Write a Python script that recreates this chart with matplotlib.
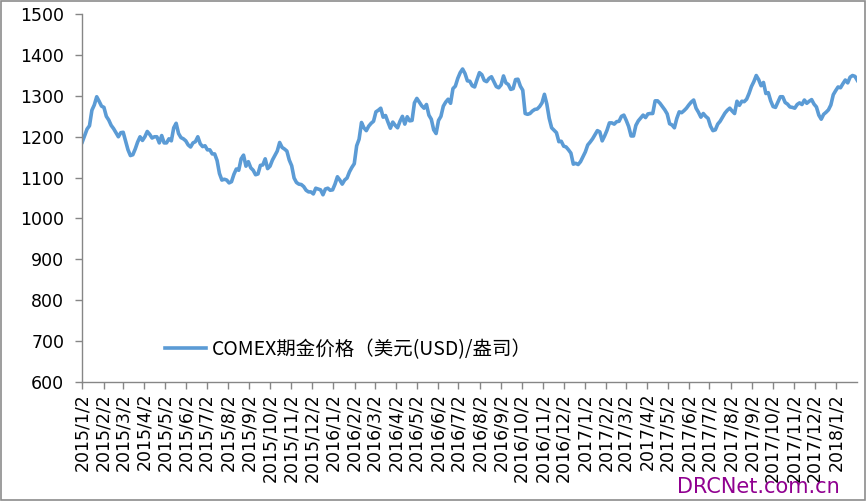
import matplotlib
matplotlib.use('Agg')
import matplotlib.pyplot as plt
from matplotlib.patches import Rectangle
import pandas as pd

# COMEX gold price (USD/oz) every half week, from 2015/1/2
price = [
    1187, 1203, 1219, 1227, 1265, 1278, 1298, 1287, 1275, 1272,
    1250, 1241, 1228, 1220, 1210, 1200, 1210, 1211, 1190, 1168,
    1154, 1156, 1170, 1187, 1200, 1191, 1200, 1213, 1206, 1197,
    1200, 1200, 1185, 1203, 1185, 1185, 1195, 1190, 1222, 1233,
    1208, 1198, 1195, 1190, 1180, 1175, 1185, 1188, 1200, 1183,
    1176, 1178, 1168, 1168, 1158, 1158, 1142, 1110, 1094, 1096,
    1094, 1087, 1090, 1108, 1121, 1118, 1146, 1155, 1128, 1139,
    1124, 1118, 1107, 1109, 1130, 1131, 1146, 1122, 1128, 1143,
    1154, 1165, 1186, 1174, 1170, 1165, 1143, 1129, 1099, 1088,
    1084, 1083, 1078, 1069, 1065, 1065, 1060, 1074, 1072, 1070,
    1058, 1072, 1074, 1069, 1070, 1084, 1102, 1094, 1084, 1094,
    1099, 1114, 1125, 1134, 1178, 1194, 1235, 1222, 1215, 1226,
    1233, 1238, 1261, 1265, 1270, 1248, 1252, 1236, 1221, 1236,
    1228, 1222, 1238, 1250, 1231, 1249, 1239, 1240, 1283, 1294,
    1285, 1276, 1270, 1279, 1253, 1243, 1217, 1208, 1240, 1250,
    1275, 1285, 1292, 1282, 1318, 1324, 1343, 1357, 1366, 1355,
    1337, 1336, 1325, 1322, 1340, 1357, 1352, 1338, 1335, 1343,
    1347, 1335, 1323, 1320, 1327, 1349, 1332, 1328, 1316, 1318,
    1340, 1341, 1324, 1314, 1257, 1255, 1257, 1263, 1267, 1268,
    1274, 1283, 1304, 1280, 1245, 1222, 1216, 1210, 1188, 1189,
    1177, 1175, 1168, 1160, 1133, 1135, 1132, 1139, 1151, 1163,
    1180, 1187, 1195, 1205, 1215, 1212, 1190, 1202, 1216, 1234,
    1234, 1231, 1237, 1238, 1250, 1253, 1240, 1225, 1202, 1202,
    1228, 1239, 1246, 1253, 1247, 1256, 1257, 1257, 1288, 1288,
    1282, 1274, 1266, 1256, 1232, 1229, 1222, 1245, 1261, 1259,
    1264, 1270, 1278, 1285, 1290, 1270, 1260, 1248, 1257, 1250,
    1245, 1226, 1215, 1217, 1231, 1238, 1248, 1258, 1265, 1270,
    1263, 1257, 1287, 1277, 1287, 1286, 1292, 1306, 1323, 1335,
    1350, 1340, 1325, 1333, 1306, 1308, 1288, 1274, 1272, 1285,
    1298, 1298, 1284, 1280, 1273, 1272, 1270, 1279, 1283, 1279,
    1290, 1282, 1287, 1291, 1280, 1273, 1253, 1243, 1255, 1260,
    1266, 1278, 1303, 1313, 1322, 1320, 1330, 1339, 1332, 1346,
    1350, 1348, 1338,
]
dates = pd.date_range('2015-01-02', periods=len(price), freq='84h')
tick_dates = pd.date_range('2015-01-01', '2018-01-01', freq='MS') + pd.Timedelta(days=1)
tick_labels = [f'{d.year}/{d.month}/{d.day}' for d in tick_dates]
y_ticks = list(range(600, 1501, 100))
series_name = 'COMEX期金价格（美元(USD)/盎司）'

line_color = '#5B9BD5'
axis_color = '#868686'

fig = plt.figure(figsize=(8.66, 5.01), dpi=100)
ax = fig.add_axes([0.095, 0.238, 0.895, 0.7335])

ax.plot(dates, price, color=line_color, lw=2.6, label=series_name)

ax.set_xlim(dates[0], dates[-1])
ax.set_ylim(600, 1500)
ax.set_yticks(y_ticks)
ax.set_xticks(tick_dates)
ax.set_xticklabels(tick_labels, rotation=90, ha='center', va='top')

for s in ['top', 'right']:
    ax.spines[s].set_visible(False)
for s in ['left', 'bottom']:
    ax.spines[s].set_color(axis_color)
    ax.spines[s].set_linewidth(1.0)
ax.tick_params(axis='both', colors=axis_color, length=5, width=1.0,
               labelcolor='black', labelsize=12.5)
ax.tick_params(axis='x', pad=3)
ax.tick_params(axis='y', pad=8)
for lab in ax.get_xticklabels() + ax.get_yticklabels():
    lab.set_family('DejaVu Sans')

leg = ax.legend(loc='center left', bbox_to_anchor=(0.107, 0.088), frameon=False,
                borderpad=0, borderaxespad=0, handlelength=2.1, handletextpad=0.3,
                prop={'family': ['Noto Sans CJK SC', 'DejaVu Sans'], 'size': 14})

fig.text(0.782, 0.008, 'DRCNet.com.cn', color='#900090', fontsize=15,
         family='DejaVu Sans', ha='left', va='bottom')

fig.patches.append(Rectangle((0.0006, 0.001), 0.9982, 0.997, transform=fig.transFigure,
                             fill=False, edgecolor='#8c8c8c', lw=1.2))

fig.savefig('out.png', dpi=100)
